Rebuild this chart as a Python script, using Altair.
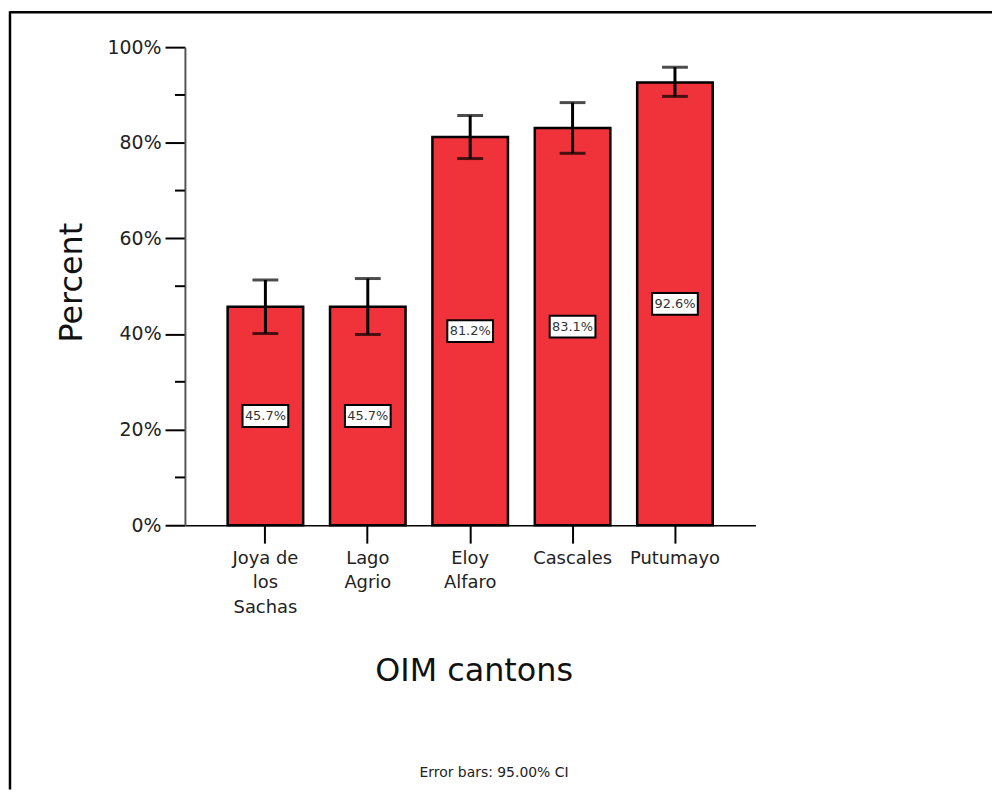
import altair as alt
import pandas as pd

categories = ["Joya de los Sachas", "Lago Agrio", "Eloy Alfaro", "Cascales", "Putumayo"]
percent = [45.7, 45.7, 81.2, 83.1, 92.6]
ci_low = [40.1, 39.9, 76.7, 77.8, 89.7]
ci_high = [51.3, 51.6, 85.7, 88.4, 95.8]
value_labels = ["45.7%", "45.7%", "81.2%", "83.1%", "92.6%"]
y_ticks = [0, 20, 40, 60, 80, 100]
y_minor = [10, 30, 50, 70, 90]

FONT = "DejaVu Sans"
W, H = 574, 481
PL, PT, PR, PB = 178, 37, 238, 266

df = pd.DataFrame({
    "cat": categories,
    "pct": percent,
    "lo": ci_low,
    "hi": ci_high,
    "lab": value_labels,
})

label_expr = ("datum.value == 'Joya de los Sachas' ? ['Joya de', 'los', 'Sachas'] : "
              "datum.value == 'Lago Agrio' ? ['Lago', 'Agrio'] : "
              "datum.value == 'Eloy Alfaro' ? ['Eloy', 'Alfaro'] : datum.value")

x_enc = alt.X("cat:N", sort=categories,
              scale=alt.Scale(paddingInner=0.262, paddingOuter=0.417),
              axis=alt.Axis(title=None, labelAngle=0, tickSize=18, tickWidth=2,
                            tickColor="black", domainColor="black", domainWidth=1.5,
                            labelFontSize=18, labelPadding=6, labelLineHeight=25,
                            labelColor="#222", labelExpr=label_expr, labelFont=FONT))
y_scale = alt.Scale(domain=[0, 100], nice=False)
y_enc = alt.Y("pct:Q", scale=y_scale,
              axis=alt.Axis(title=None, values=y_ticks, tickSize=20, tickWidth=2,
                            tickColor="black", domainColor="#555", domainWidth=2,
                            labelFontSize=19, labelPadding=4, labelColor="#222",
                            labelExpr="datum.value + '%'", grid=False, labelFont=FONT))

base = alt.Chart(df)

bars = base.mark_bar(fill="#F0323A", stroke="black", strokeWidth=2.5).encode(x=x_enc, y=y_enc)

err = base.mark_rule(color="black", strokeWidth=3).encode(
    x=alt.X("cat:N", sort=categories), y=alt.Y("lo:Q", scale=y_scale), y2="hi:Q")
cap_lo = base.mark_tick(color="black", thickness=3, size=26, orient="horizontal").encode(
    x=alt.X("cat:N", sort=categories), y=alt.Y("lo:Q", scale=y_scale))
cap_hi = base.mark_tick(color="black", thickness=3, size=26, orient="horizontal").encode(
    x=alt.X("cat:N", sort=categories), y=alt.Y("hi:Q", scale=y_scale))

box = base.transform_calculate(mid="datum.pct / 2").mark_point(
    shape="M-1,-0.478H1V0.478H-1Z", size=2116, filled=True, fill="white",
    stroke="black", strokeWidth=2, opacity=1).encode(
    x=alt.X("cat:N", sort=categories), y=alt.Y("mid:Q", scale=y_scale))
box_text = base.transform_calculate(mid="datum.pct / 2").mark_text(
    fontSize=13, color="#333", font=FONT, baseline="middle").encode(
    x=alt.X("cat:N", sort=categories), y=alt.Y("mid:Q", scale=y_scale), text="lab:N")

minor = alt.Chart(pd.DataFrame({"m": y_minor})).mark_rule(color="black", strokeWidth=2).encode(
    y=alt.Y("m:Q", scale=y_scale), x=alt.value(-10), x2=alt.value(0))

one = pd.DataFrame({"a": [0]})
frame_top = alt.Chart(one).mark_rule(color="black", strokeWidth=2.5).encode(
    x=alt.value(-176), x2=alt.value(W + PR), y=alt.value(-35))
frame_left = alt.Chart(one).mark_rule(color="black", strokeWidth=2.5).encode(
    x=alt.value(-176), y=alt.value(-36), y2=alt.value(H + PB))

ytitle = alt.Chart(one).mark_text(text="Percent", fontSize=32, angle=270, font=FONT,
                                  color="#111", baseline="middle", align="center").encode(
    x=alt.value(-114), y=alt.value(237))
xtitle = alt.Chart(one).mark_text(text="OIM cantons", fontSize=32, font=FONT,
                                  color="#111", baseline="middle", align="center").encode(
    x=alt.value(291), y=alt.value(628))
footer = alt.Chart(one).mark_text(text="Error bars: 95.00% CI", fontSize=14, font=FONT,
                                  color="#222", baseline="middle", align="center").encode(
    x=alt.value(311), y=alt.value(730))

chart = alt.layer(
    bars, err, cap_lo, cap_hi, box, box_text, minor,
    frame_top, frame_left, ytitle, xtitle, footer
).properties(
    width=W, height=H,
    autosize=alt.AutoSizeParams(type="none"),
    padding={"left": PL, "top": PT, "right": PR, "bottom": PB},
).configure(
    font=FONT, background="white",
    view=alt.ViewConfig(strokeWidth=0, stroke="transparent"),
)

chart.save("out.html", embed_options={"renderer": "svg", "actions": False})
